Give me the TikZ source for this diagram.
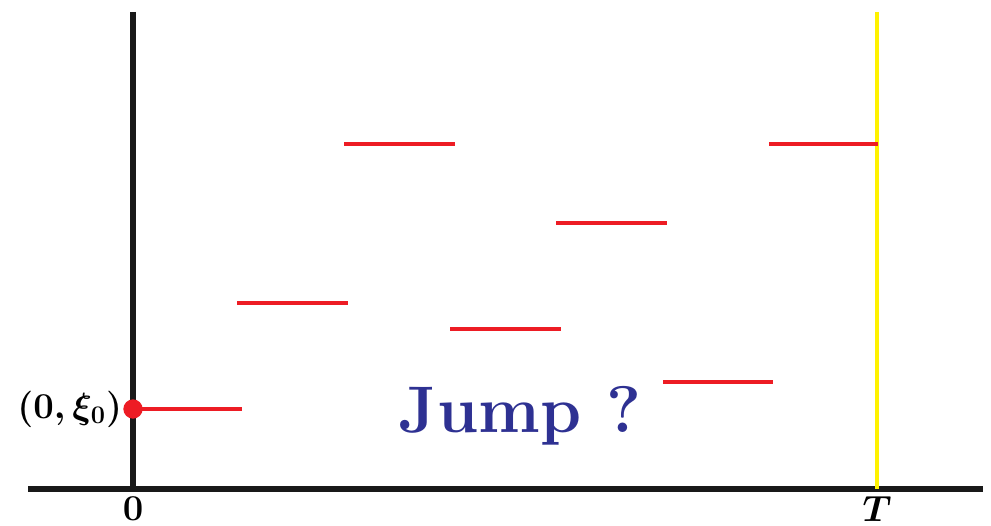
\documentclass[tikz,border=0pt]{standalone}
\usepackage{amsmath, amssymb}
\usepackage{xcolor}
\usepackage{tikz}
\usetikzlibrary{calc, positioning}

\definecolor{jumpred}{RGB}{237,28,36}
\definecolor{jumpblue}{RGB}{46,49,146}
\definecolor{jumpyellow}{RGB}{255,242,0}

\begin{document}
\begin{tikzpicture}[x=0.02cm, y=-0.02cm,
    axe/.style={line width=3pt, color=black!90},
    bac/.style={line width=2.4pt, color=jumpred}]
    \useasboundingbox (0,0) rectangle (991,526);

    % Vẽ hệ trục
    \draw[axe] (28,489) -- (983,489);
    \draw[axe] (133,12) -- (133,489);
    \draw[line width=2.8pt, jumpyellow] (877,12) -- (877,489);
    \node[font=\fontsize{21}{23}\selectfont] at (133,509) {$\boldsymbol{0}$};
    \node[font=\fontsize{21}{23}\selectfont] at (877,509) {$\boldsymbol{T}$};

    % Vẽ các đoạn nhảy
    \draw[bac] (133,409) -- (242,409);
    \draw[bac] (237,303) -- (348,303);
    \draw[bac] (344,144) -- (455,144);
    \draw[bac] (450,329) -- (561,329);
    \draw[bac] (556,223) -- (667,223);
    \draw[bac] (663,382) -- (773,382);
    \draw[bac] (769,144) -- (878,144);

    % Điểm đầu
    \node[circle, fill=jumpred, inner sep=0pt, minimum size=11pt] (start) at (133,409) {};
    \node[left=-3pt of start, font=\fontsize{22}{24}\selectfont] {$\boldsymbol{(0,\xi_0)}$};

    \node[jumpblue, font=\fontsize{37.5}{40}\selectfont\bfseries] at (520,416) {Jump ?};
\end{tikzpicture}
\end{document}
